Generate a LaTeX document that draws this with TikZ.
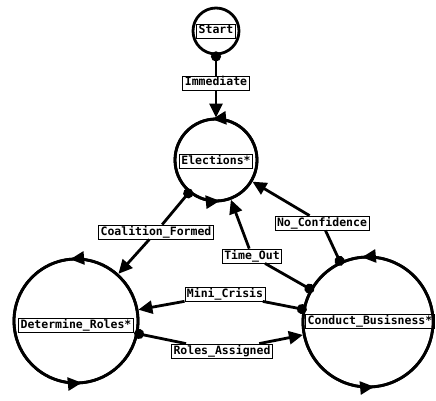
\documentclass[tikz,border=0pt]{standalone}
\usepackage{fontspec}
\setmonofont{DejaVu Sans Mono}
\usetikzlibrary{arrows.meta, decorations.markings}

\begin{document}
\begin{tikzpicture}[x=1pt, y=-1pt,
		stnode/.style={circle, draw, line width=2.8pt, inner sep=0pt},
		tag/.style={draw, line width=0.8pt, fill=white, font=\ttfamily\bfseries\fontsize{11.5}{12}\selectfont,
			inner xsep=2pt, inner ysep=1.5pt, text height=8.5pt, text depth=2.5pt},
		src/.style={line width=2.8pt, shorten <=-4pt, {Circle[length=10pt]}-},
		tgt/.style={line width=2.8pt, -{Triangle[length=14pt, width=13pt]}},
		loopmark/.style={line width=2.8pt, postaction={decorate}, decoration={markings,
				mark=at position 0.265 with {\arrow{Triangle[length=14pt, width=13pt]}},
				mark=at position 0.765 with {\arrow{Triangle[length=14pt, width=13pt]}}}}
		]
		\useasboundingbox (0,0) rectangle (436,401);
		
		% ===== states =====
		\node[stnode, minimum size=46pt] (start) at (216,31) {};
		\node[tag] (startname) at (start) {Start};
		\node[stnode, minimum size=82pt] (elec) at (216,160) {};
		\node[tag] (elecname) at (216,161) {Elections*};
		\node[stnode, minimum size=124pt] (det) at (76,321) {};
		\node[tag] (detname) at (76,325) {Determine\_Roles*};
		\node[stnode, minimum size=130pt] (cond) at (368,322) {};
		\node[tag] (condname) at (370,321) {Conduct\_Busisness*};
		
		% ===== arrows round the states =====
		\draw[loopmark] (elec.center) circle[radius=41pt];
		\draw[loopmark] (det.center) circle[radius=62pt];
		\draw[loopmark] (cond.center) circle[radius=65pt];
		
		% ===== transition labels =====
		\node[tag] (imm) at (216,83) {Immediate};
		\node[tag] (coal) at (156,232) {Coalition\_Formed};
		\node[tag] (noconf) at (322,223) {No\_Confidence};
		\node[tag] (tout) at (252,256) {Time\_Out};
		\node[tag] (mini) at (225,294) {Mini\_Crisis};
		\node[tag] (rolesa) at (222,351) {Roles\_Assigned};
		
		% ===== transitions =====
		\path (start) edge[src] (imm) (imm) edge[tgt] (elec);
		\path (elec) edge[src] (coal) (coal) edge[tgt] (det);
		\path (cond) edge[src] (noconf) (noconf) edge[tgt] (elec);
		\path (cond) edge[src] (tout) (tout) edge[tgt] (elec);
		\path (cond) edge[src] (mini) (mini) edge[tgt] (det);
		\path (det) edge[src] (rolesa) (rolesa) edge[tgt] (cond);
		
	\end{tikzpicture}
\end{document}
